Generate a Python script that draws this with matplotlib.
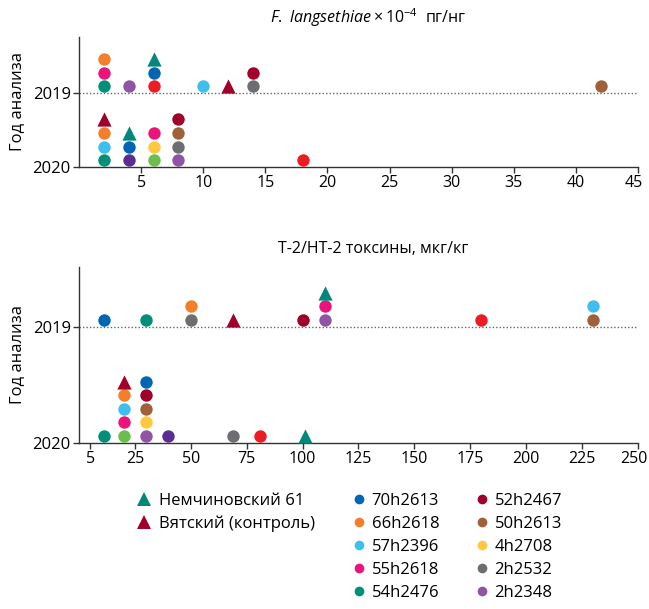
import matplotlib.pyplot as plt
import matplotlib.transforms as mtransforms
from matplotlib.lines import Line2D

plt.rcParams['font.family'] = ['Open Sans', 'DejaVu Sans']
plt.rcParams['mathtext.fontset'] = 'custom'
plt.rcParams['mathtext.rm'] = 'Open Sans'
plt.rcParams['mathtext.it'] = 'Open Sans:italic'

# series colours (three unlabelled lines are not in the legend)
colors = {
    "Немчиновский 61": "#00897a",
    "Вятский (контроль)": "#a1002b",
    "70h2613": "#0066b3",
    "66h2618": "#f47f2a",
    "57h2396": "#3fbfef",
    "55h2618": "#ec137a",
    "54h2476": "#00907a",
    "52h2467": "#a0002a",
    "50h2613": "#a0613a",
    "4h2708": "#ffc83d",
    "2h2532": "#6d6e71",
    "2h2348": "#8e55a5",
    "other_red": "#ed1c24",
    "other_green": "#6cbe4c",
    "other_purple": "#5c2d91",
}
cultivars = ["Немчиновский 61", "Вятский (контроль)"]
legend_col2 = ["70h2613", "66h2618", "57h2396", "55h2618", "54h2476"]
legend_col3 = ["52h2467", "50h2613", "4h2708", "2h2532", "2h2348"]

# F. langsethiae x 10^-4, pg/ng
fl_name = ["54h2476", "55h2618", "66h2618", "2h2348", "other_red", "70h2613",
           "Немчиновский 61", "57h2396", "Вятский (контроль)", "2h2532", "52h2467", "50h2613",
           "54h2476", "57h2396", "66h2618", "Вятский (контроль)", "other_purple", "70h2613",
           "Немчиновский 61", "other_green", "4h2708", "55h2618", "2h2348", "2h2532",
           "50h2613", "52h2467", "other_red"]
fl_x = [2, 2, 2, 4, 6, 6, 6, 10, 12, 14, 14, 42,
        2, 2, 2, 2, 4, 4, 4, 6, 6, 6, 8, 8, 8, 8, 18]
fl_year = [2019] * 12 + [2020] * 15
fl_row = [0, 1, 2, 0, 0, 1, 2, 0, 0, 0, 1, 0,
          0, 1, 2, 3, 0, 1, 2, 0, 1, 2, 0, 1, 2, 3, 0]

# T-2/HT-2 toxins, ug/kg
tx_name = ["70h2613", "54h2476", "2h2532", "66h2618", "Вятский (контроль)", "52h2467",
           "2h2348", "55h2618", "Немчиновский 61", "other_red", "50h2613", "57h2396",
           "54h2476", "other_green", "55h2618", "57h2396", "66h2618", "Вятский (контроль)",
           "2h2348", "4h2708", "50h2613", "52h2467", "70h2613", "other_purple", "2h2532",
           "other_red", "Немчиновский 61"]
tx_x = [11, 30, 50, 50, 69, 100, 110, 110, 110, 180, 230, 230,
        11, 20, 20, 20, 20, 20, 30, 30, 30, 30, 30, 40, 69, 81, 101]
tx_year = [2019] * 12 + [2020] * 15
tx_row = [0, 0, 0, 1, 0, 0, 0, 1, 2, 0, 0, 1,
          0, 0, 1, 2, 3, 4, 0, 1, 2, 3, 4, 0, 0, 0, 0]

fig = plt.figure(figsize=(6.49, 6.09), dpi=100)
ax1 = fig.add_axes([0.1217, 0.7258, 0.8613, 0.2135])
ax2 = fig.add_axes([0.1217, 0.2730, 0.8613, 0.2885])


def draw_panel(ax, names, xs, years, rows, ytop, xmax, xticks, title, title_x):
    # 2020 sits on the x axis, 2019 at 1; markers stack up from each level
    ax.set_ylim(0, ytop)
    ax.set_xlim(0, xmax)
    step = 13.6 / (ax.get_position().height * 609) * ytop
    for n, x, yr, r in zip(names, xs, years, rows):
        base = 1 if yr == 2019 else 0
        y = base + (r + 0.5) * step
        if n in cultivars:
            ax.scatter(x, y, s=105, marker="^", color=colors[n], linewidths=0, zorder=3)
        else:
            ax.scatter(x, y, s=80, marker="o", color=colors[n], linewidths=0, zorder=3)
    ax.axhline(1, color="#666666", linestyle=(0, (1, 1.5)), linewidth=1, zorder=1)
    ax.set_yticks([0, 1])
    ax.set_yticklabels(["2020", "2019"])
    ax.set_xticks(xticks)
    ax.set_ylabel("Год анализа", fontsize=12)
    ax.yaxis.set_label_coords(-0.097, 0.5)
    ax.set_title(title, fontsize=11.5, pad=10, x=title_x)
    for s in ["top", "right"]:
        ax.spines[s].set_visible(False)
    for s in ["left", "bottom"]:
        ax.spines[s].set_color("#333333")
        ax.spines[s].set_linewidth(1)
    ax.tick_params(axis="both", labelsize=12, color="#333333", length=4, width=1, pad=2)
    ax.tick_params(axis="x", labelsize=11.5)


draw_panel(ax1, fl_name, fl_x, fl_year, fl_row, 1.757, 45, list(range(5, 46, 5)),
           r"$\mathit{F.\ langsethiae}\times10^{-4}$  пг/нг", 0.518)
draw_panel(ax2, tx_name, tx_x, tx_year, tx_row, 1.515, 250, [5] + list(range(25, 251, 25)),
           "T-2/HT-2 токсины, мкг/кг", 0.527)

# nudge the last tick labels a little left so they stay inside the figure
for ax in [ax1, ax2]:
    lbl = ax.get_xticklabels()[-1]
    lbl.set_transform(lbl.get_transform() + mtransforms.ScaledTranslation(-4 / 100, 0, fig.dpi_scale_trans))


def legend_block(keys, marker, ms, x, y, pad):
    handles = [Line2D([], [], linestyle="none", marker=marker, markersize=ms,
                      markerfacecolor=colors[k], markeredgewidth=0) for k in keys]
    fig.legend(handles, keys, loc="upper left", bbox_to_anchor=(x, y), frameon=False,
               fontsize=12, handlelength=0.8, handletextpad=pad, labelspacing=0.42,
               borderpad=0, borderaxespad=0)


legend_block(cultivars, "^", 9.5, 0.2115, 0.191, 0.5)
legend_block(legend_col2, "o", 7, 0.543, 0.191, 0.35)
legend_block(legend_col3, "o", 7, 0.7324, 0.191, 0.35)

plt.savefig("out.png")
plt.close()
